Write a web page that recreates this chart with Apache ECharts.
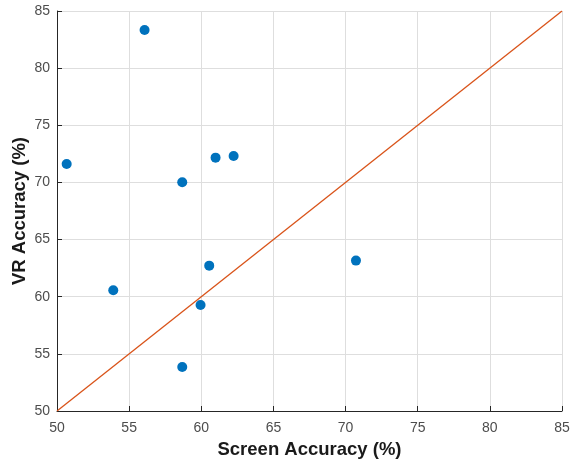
<!DOCTYPE html>
<html><head><meta charset="utf-8">
<script src="https://cdn.jsdelivr.net/npm/echarts@6/dist/echarts.min.js"></script>
<style>html,body{margin:0;padding:0;background:#fff}#c{width:571px;height:460px}</style>
</head><body><div id="c"></div>
<script>
const screenAcc = [50.67, 56.07, 58.68, 60.99, 62.24, 53.9, 60.55, 59.95, 58.68, 70.72];
const vrAcc     = [71.61, 83.34, 70.01, 72.17, 72.31, 60.56, 62.72, 59.28, 53.85, 63.16];
const identityLine = [[50, 50], [85, 85]];
const xTicks = [50, 55, 60, 65, 70, 75, 80, 85];
const yTicks = [50, 55, 60, 65, 70, 75, 80, 85];

const chart = echarts.init(document.getElementById('c'), null, {renderer: 'canvas'});
const font = 'Liberation Sans, Arial, Helvetica, sans-serif';
chart.setOption({
  animation: false,
  grid: {left: 57, right: 9, top: 11, bottom: 49, containLabel: false, outerBoundsMode: 'none'},
  xAxis: {
    type: 'value', min: xTicks[0], max: xTicks[xTicks.length-1], interval: 5,
    name: 'Screen Accuracy (%)', nameLocation: 'middle', nameGap: 29, nameMoveOverlap: false,
    nameTextStyle: {fontFamily: font, fontSize: 18.5, fontWeight: 'bold', color: '#1a1a1a'},
    axisLine: {lineStyle: {color: '#262626', width: 1}},
    axisTick: {show: true, inside: true, length: 5, lineStyle: {color: '#262626'}},
    axisLabel: {fontFamily: font, fontSize: 14, color: '#4d4d4d', margin: 10},
    splitLine: {show: true, lineStyle: {color: '#dedede', width: 1}}
  },
  yAxis: {
    type: 'value', min: yTicks[0], max: yTicks[yTicks.length-1], interval: 5,
    name: 'VR Accuracy (%)', nameLocation: 'middle', nameGap: 28, nameRotate: 90, nameMoveOverlap: false,
    nameTextStyle: {fontFamily: font, fontSize: 18.5, fontWeight: 'bold', color: '#1a1a1a'},
    axisLine: {show: true, lineStyle: {color: '#262626', width: 1}},
    axisTick: {show: true, inside: true, length: 5, lineStyle: {color: '#262626'}},
    axisLabel: {fontFamily: font, fontSize: 14, color: '#4d4d4d', margin: 7},
    splitLine: {show: true, lineStyle: {color: '#dedede', width: 1}}
  },
  series: [
    {
      type: 'line', data: identityLine, symbol: 'none', silent: true,
      lineStyle: {color: '#D95319', width: 1.3}, z: 2
    },
    {
      type: 'scatter', data: screenAcc.map((x, i) => [x, vrAcc[i]]),
      symbolSize: 10, itemStyle: {color: '#0072BD', opacity: 1}, z: 3
    }
  ]
});
</script></body></html>
